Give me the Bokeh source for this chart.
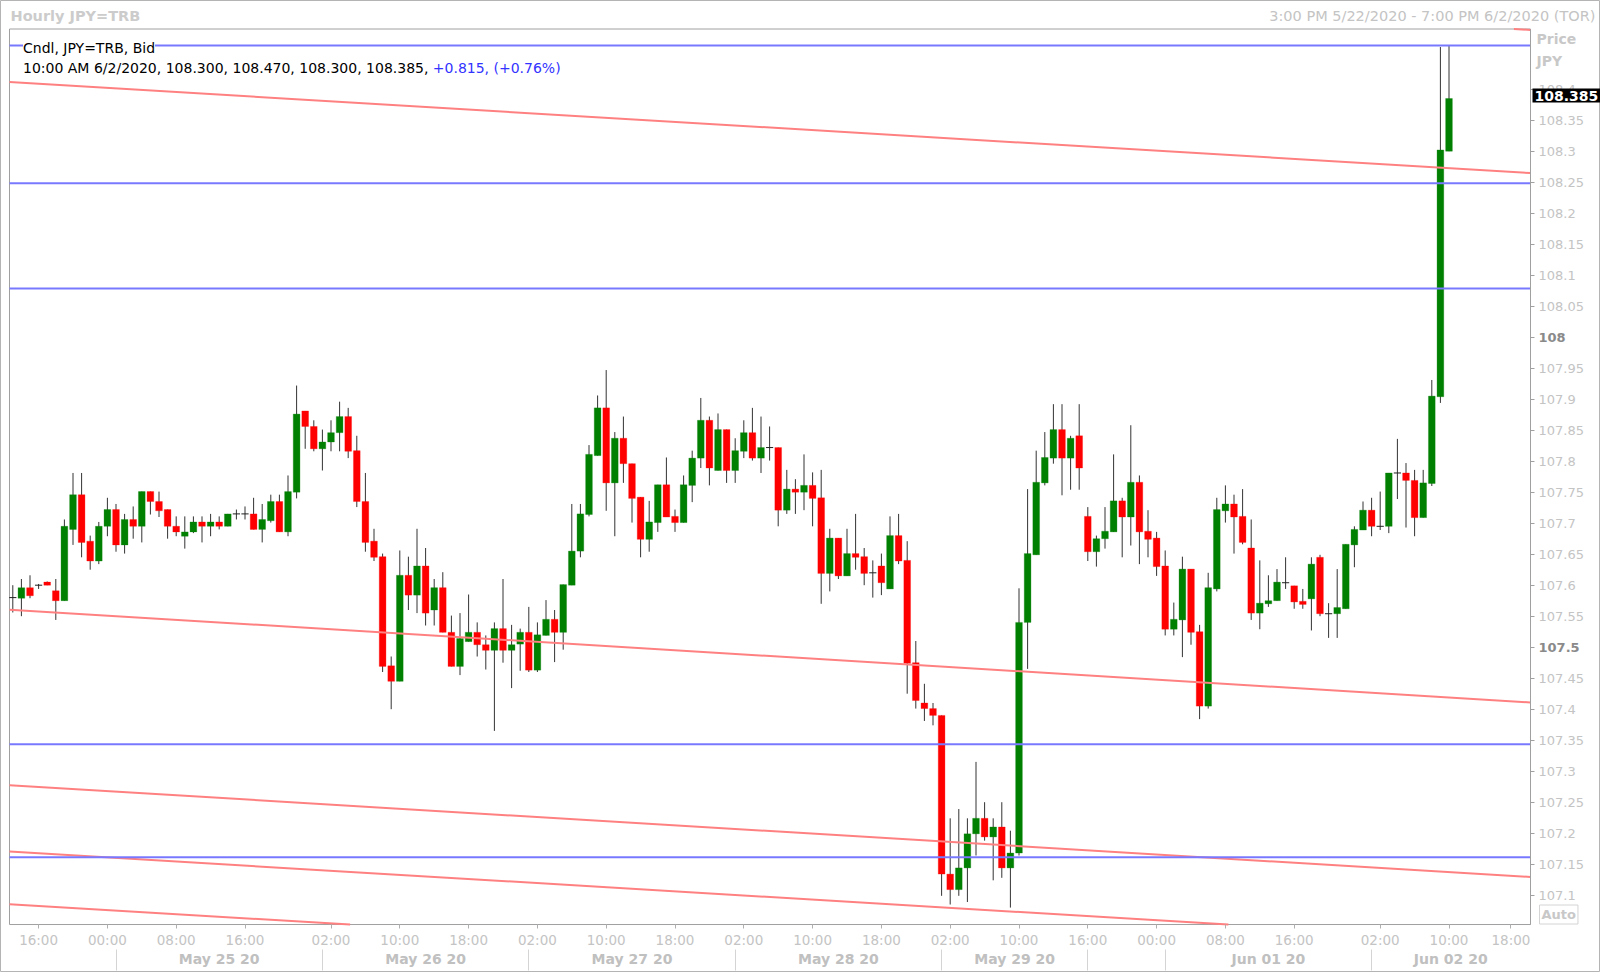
import numpy as np
from bokeh.plotting import figure
from bokeh.models import Range1d, LinearAxis, FixedTicker, Label, ColumnDataSource
from bokeh.embed import file_html
from bokeh.resources import INLINE

# ---------------- data (hourly candles, JPY=TRB bid) ----------------
opens = [107.580, 107.579, 107.596, 107.600, 107.605, 107.591, 107.575, 107.690, 107.746, 107.671,
         107.639, 107.695, 107.722, 107.665, 107.706, 107.695, 107.751, 107.735, 107.722, 107.695,
         107.679, 107.686, 107.702, 107.695, 107.702, 107.695, 107.715, 107.715, 107.715, 107.690,
         107.704, 107.735, 107.686, 107.750, 107.881, 107.856, 107.820, 107.831, 107.846, 107.872,
         107.817, 107.735, 107.671, 107.646, 107.470, 107.445, 107.616, 107.584, 107.631, 107.560,
         107.596, 107.524, 107.469, 107.509, 107.524, 107.504, 107.495, 107.530, 107.495, 107.505,
         107.524, 107.463, 107.519, 107.545, 107.524, 107.600, 107.655, 107.714, 107.809, 107.886,
         107.765, 107.837, 107.796, 107.742, 107.674, 107.701, 107.762, 107.711, 107.701, 107.761,
         107.805, 107.866, 107.785, 107.851, 107.785, 107.816, 107.846, 107.805, 107.822, 107.822,
         107.721, 107.755, 107.750, 107.761, 107.741, 107.619, 107.676, 107.615, 107.651, 107.646,
         107.620, 107.631, 107.594, 107.680, 107.640, 107.475, 107.410, 107.401, 107.390, 107.134,
         107.109, 107.144, 107.199, 107.224, 107.194, 107.210, 107.144, 107.168, 107.540, 107.649,
         107.765, 107.805, 107.851, 107.805, 107.841, 107.711, 107.654, 107.675, 107.686, 107.736,
         107.710, 107.766, 107.687, 107.676, 107.631, 107.529, 107.544, 107.626, 107.525, 107.405,
         107.594, 107.720, 107.731, 107.711, 107.660, 107.555, 107.570, 107.575, 107.604, 107.599,
         107.574, 107.578, 107.645, 107.554, 107.554, 107.562, 107.665, 107.689, 107.721, 107.695,
         107.695, 107.781, 107.781, 107.769, 107.709, 107.764, 107.904, 108.300]
highs = [107.600, 107.610, 107.616, 107.602, 107.606, 107.610, 107.706, 107.781, 107.781, 107.680,
         107.702, 107.741, 107.731, 107.715, 107.727, 107.751, 107.751, 107.751, 107.722, 107.711,
         107.711, 107.711, 107.711, 107.715, 107.711, 107.715, 107.722, 107.727, 107.741, 107.731,
         107.746, 107.746, 107.777, 107.922, 107.881, 107.866, 107.851, 107.866, 107.896, 107.886,
         107.841, 107.781, 107.691, 107.651, 107.485, 107.656, 107.646, 107.691, 107.660, 107.610,
         107.621, 107.551, 107.555, 107.585, 107.540, 107.519, 107.540, 107.610, 107.536, 107.530,
         107.565, 107.540, 107.576, 107.560, 107.601, 107.731, 107.731, 107.826, 107.906, 107.947,
         107.847, 107.872, 107.796, 107.742, 107.736, 107.762, 107.806, 107.722, 107.777, 107.817,
         107.902, 107.872, 107.877, 107.851, 107.837, 107.866, 107.886, 107.872, 107.856, 107.822,
         107.786, 107.771, 107.811, 107.782, 107.786, 107.691, 107.676, 107.691, 107.715, 107.660,
         107.640, 107.651, 107.711, 107.715, 107.671, 107.510, 107.441, 107.410, 107.390, 107.224,
         107.239, 107.224, 107.315, 107.250, 107.224, 107.250, 107.204, 107.595, 107.755, 107.817,
         107.847, 107.892, 107.892, 107.841, 107.892, 107.726, 107.680, 107.726, 107.811, 107.741,
         107.858, 107.777, 107.721, 107.686, 107.656, 107.572, 107.646, 107.626, 107.536, 107.620,
         107.741, 107.761, 107.746, 107.755, 107.706, 107.640, 107.616, 107.626, 107.645, 107.599,
         107.594, 107.645, 107.649, 107.571, 107.626, 107.666, 107.695, 107.735, 107.741, 107.751,
         107.781, 107.836, 107.797, 107.786, 107.786, 107.931, 108.468, 108.470]
lows = [107.556, 107.550, 107.579, 107.594, 107.600, 107.544, 107.575, 107.665, 107.645, 107.625,
        107.634, 107.679, 107.654, 107.651, 107.675, 107.669, 107.714, 107.710, 107.675, 107.679,
        107.659, 107.684, 107.669, 107.679, 107.690, 107.695, 107.706, 107.706, 107.690, 107.669,
        107.701, 107.686, 107.679, 107.740, 107.820, 107.816, 107.785, 107.816, 107.816, 107.805,
        107.726, 107.654, 107.639, 107.460, 107.400, 107.445, 107.560, 107.555, 107.535, 107.535,
        107.524, 107.469, 107.455, 107.509, 107.485, 107.464, 107.365, 107.475, 107.434, 107.462,
        107.460, 107.460, 107.519, 107.476, 107.496, 107.600, 107.645, 107.711, 107.809, 107.720,
        107.679, 107.765, 107.701, 107.645, 107.654, 107.686, 107.710, 107.686, 107.701, 107.734,
        107.789, 107.761, 107.785, 107.765, 107.765, 107.805, 107.801, 107.781, 107.801, 107.695,
        107.715, 107.715, 107.721, 107.695, 107.570, 107.590, 107.610, 107.615, 107.625, 107.600,
        107.580, 107.584, 107.594, 107.634, 107.425, 107.401, 107.381, 107.374, 107.099, 107.085,
        107.099, 107.089, 107.164, 107.188, 107.124, 107.128, 107.080, 107.164, 107.465, 107.649,
        107.761, 107.796, 107.745, 107.754, 107.754, 107.639, 107.630, 107.659, 107.686, 107.645,
        107.664, 107.634, 107.645, 107.615, 107.519, 107.519, 107.484, 107.504, 107.384, 107.401,
        107.590, 107.701, 107.651, 107.666, 107.544, 107.529, 107.565, 107.575, 107.594, 107.562,
        107.562, 107.527, 107.550, 107.515, 107.515, 107.562, 107.629, 107.689, 107.679, 107.689,
        107.684, 107.739, 107.693, 107.679, 107.709, 107.760, 107.894, 108.300]
closes = [107.580, 107.596, 107.583, 107.600, 107.600, 107.575, 107.695, 107.746, 107.669, 107.639,
          107.695, 107.722, 107.665, 107.706, 107.695, 107.751, 107.735, 107.720, 107.695, 107.686,
          107.686, 107.702, 107.695, 107.702, 107.695, 107.715, 107.715, 107.715, 107.690, 107.706,
          107.735, 107.686, 107.751, 107.876, 107.856, 107.820, 107.831, 107.846, 107.872, 107.816,
          107.735, 107.669, 107.645, 107.469, 107.445, 107.616, 107.584, 107.631, 107.555, 107.596,
          107.524, 107.469, 107.514, 107.524, 107.504, 107.495, 107.530, 107.495, 107.504, 107.524,
          107.463, 107.520, 107.545, 107.524, 107.601, 107.655, 107.715, 107.811, 107.886, 107.765,
          107.837, 107.796, 107.740, 107.674, 107.702, 107.762, 107.710, 107.701, 107.762, 107.805,
          107.866, 107.789, 107.851, 107.785, 107.817, 107.846, 107.805, 107.822, 107.822, 107.721,
          107.755, 107.750, 107.761, 107.740, 107.619, 107.676, 107.615, 107.651, 107.645, 107.619,
          107.620, 107.604, 107.680, 107.639, 107.474, 107.414, 107.401, 107.390, 107.134, 107.109,
          107.144, 107.199, 107.224, 107.194, 107.210, 107.144, 107.168, 107.540, 107.651, 107.766,
          107.806, 107.851, 107.805, 107.837, 107.789, 107.654, 107.675, 107.687, 107.736, 107.710,
          107.766, 107.686, 107.674, 107.630, 107.529, 107.545, 107.626, 107.524, 107.405, 107.596,
          107.722, 107.731, 107.710, 107.669, 107.555, 107.571, 107.575, 107.605, 107.604, 107.573,
          107.569, 107.634, 107.554, 107.554, 107.564, 107.666, 107.690, 107.721, 107.695, 107.695,
          107.781, 107.781, 107.769, 107.709, 107.765, 107.905, 108.302, 108.385]

# x-axis (bar index) tick labels
time_tick_pos = [3, 11, 19, 27, 37, 45, 53, 61, 69, 77, 85, 93, 101, 109, 117, 125, 133, 141, 149, 159, 167, 174.2]
time_tick_labels = ["16:00", "00:00", "08:00", "16:00", "02:00", "10:00", "18:00", "02:00", "10:00", "18:00",
                    "02:00", "10:00", "18:00", "02:00", "10:00", "16:00", "00:00", "08:00", "16:00", "02:00",
                    "10:00", "18:00"]
date_label_pos = [24, 48, 72, 96, 116.5, 146, 167.2]
date_labels = ["May 25 20", "May 26 20", "May 27 20", "May 28 20", "May 29 20", "Jun 01 20", "Jun 02 20"]
date_separators = [12, 36, 60, 84, 108, 125, 134, 158]

# price axis ticks
y_ticks = [107.1, 107.15, 107.2, 107.25, 107.3, 107.35, 107.4, 107.45, 107.5, 107.55, 107.6, 107.65,
           107.7, 107.75, 107.8, 107.85, 107.9, 107.95, 108.0, 108.05, 108.1, 108.15, 108.2, 108.25,
           108.3, 108.35, 108.4]
y_tick_labels = ["107.1", "107.15", "107.2", "107.25", "107.3", "107.35", "107.4", "107.45", "", "107.55",
                 "107.6", "107.65", "107.7", "107.75", "107.8", "107.85", "107.9", "107.95", "", "108.05",
                 "108.1", "108.15", "108.2", "108.25", "108.3", "108.35", "108.4"]
bold_ticks = [108.0, 107.5]
bold_tick_labels = ["108", "107.5"]

# drawn studies: sloping (red) trend lines and horizontal (blue) levels
trend_x0 = [-0.384, -0.384, -0.384, -0.384, -0.384, -0.384]
trend_y0 = [108.642, 108.4115, 107.5605, 107.2774, 107.1705, 107.0856]
trend_x1 = [176.48, 176.48, 176.48, 176.48, 176.48, 176.48]
trend_y1 = [108.4955, 108.2648, 107.4108, 107.1294, 107.0235, 106.9387]
levels = [108.4705, 108.2482, 108.0784, 107.3435, 107.1613]

last_price_text = "108.385"

# ---------------- geometry ----------------
FONT = "DejaVu Sans"
W, H = 1600, 972
PXX = 8.6             # pixels per bar
PXY = 620.0           # pixels per 1.0 JPY
X0, X1 = -0.384, 176.477      # chart area (bars)
Y0, Y1 = 107.0527, 108.4971   # chart area (price)
LEFT_PX, TOP_PX = 9, 28.5     # chart area offset inside the canvas


def sx2x(sx):
    return X0 + (sx - LEFT_PX) / PXX


def sy2y(sy):
    return Y1 - (sy - TOP_PX) / PXY


p = figure(width=W, height=H, x_range=Range1d(sx2x(0), sx2x(W)), y_range=Range1d(sy2y(H), sy2y(0)),
           output_backend="svg", toolbar_location=None,
           x_axis_location=None, y_axis_location=None, min_border=0)
p.xgrid.visible = False
p.ygrid.visible = False
p.outline_line_color = "#b4b4b4"
p.background_fill_color = "white"
p.border_fill_color = "white"

# chart area frame
p.quad(left=[X0], right=[X1], bottom=[Y0], top=[Y1], fill_color=None, line_color="#a0a0a0", line_width=1)

n = len(opens)
idx = list(range(n))
o = np.array(opens); c = np.array(closes)
is_doji = np.abs(o - c) < 0.0005
color = ["#008000" if cc > oo else "#ff0000" for oo, cc in zip(opens, closes)]

src = ColumnDataSource(dict(x=idx, high=highs, low=lows))
body_idx = [i for i in idx if not is_doji[i]]
body_src = ColumnDataSource(dict(x=[idx[i] for i in body_idx],
                                 top=[max(opens[i], closes[i]) for i in body_idx],
                                 bottom=[min(opens[i], closes[i]) for i in body_idx],
                                 color=[color[i] for i in body_idx]))
doji_idx = [i for i in idx if is_doji[i]]
doji_src = ColumnDataSource(dict(x0=[idx[i] - 0.42 for i in doji_idx], x1=[idx[i] + 0.42 for i in doji_idx],
                                 y=[opens[i] for i in doji_idx]))

p.segment(x0="x", y0="low", x1="x", y1="high", source=src, line_color="#333333", line_width=1)
p.vbar(x="x", width=0.78, top="top", bottom="bottom", source=body_src,
       fill_color="color", line_color="color", line_width=0.6, line_alpha=0.5)
p.segment(x0="x0", y0="y", x1="x1", y1="y", source=doji_src, line_color="#202020", line_width=1)


# studies, clipped to the chart area
def clip(xa, ya, xb, yb):
    t0, t1 = 0.0, 1.0
    dx, dy = xb - xa, yb - ya
    for pp, qq in ((-dx, xa - X0), (dx, X1 - xa), (-dy, ya - Y0), (dy, Y1 - ya)):
        if pp == 0:
            if qq < 0:
                return None
        else:
            t = qq / pp
            if pp < 0:
                t0 = max(t0, t)
            else:
                t1 = min(t1, t)
    if t0 > t1:
        return None
    return xa + t0 * dx, ya + t0 * dy, xa + t1 * dx, ya + t1 * dy


segs = [clip(*s) for s in zip(trend_x0, trend_y0, trend_x1, trend_y1)]
segs = [s for s in segs if s is not None]
p.segment(x0=[s[0] for s in segs], y0=[s[1] for s in segs], x1=[s[2] for s in segs], y1=[s[3] for s in segs],
          line_color="#ff8080", line_width=2)
p.segment(x0=[X0] * len(levels), y0=levels, x1=[X1] * len(levels), y1=levels,
          line_color="#7878ff", line_width=2)

# ---------------- axes (fixed at the chart-area edges) ----------------
yaxis = LinearAxis(ticker=FixedTicker(ticks=y_ticks, minor_ticks=[]), fixed_location=X1, bounds=(Y0, Y1),
                   major_label_overrides={t: s for t, s in zip(y_ticks, y_tick_labels)},
                   axis_line_color="#a0a0a0", major_tick_line_color="#a0a0a0",
                   major_tick_out=4, major_tick_in=0, minor_tick_line_color=None,
                   major_label_standoff=4, major_label_text_color="#c4c4c4",
                   major_label_text_font=FONT, major_label_text_font_size="13px")
p.add_layout(yaxis, "right")

xaxis = LinearAxis(ticker=FixedTicker(ticks=time_tick_pos, minor_ticks=[]), fixed_location=Y0, bounds=(X0, X1),
                   major_label_overrides={t: s for t, s in zip(time_tick_pos, time_tick_labels)},
                   axis_line_color=None, major_tick_line_color="#b0b0b0",
                   major_tick_out=4, major_tick_in=0, minor_tick_line_color=None,
                   major_label_standoff=3, major_label_text_color="#c4c4c4",
                   major_label_text_font=FONT, major_label_text_font_size="13.5px")
p.add_layout(xaxis, "below")

daxis = LinearAxis(ticker=FixedTicker(ticks=date_label_pos, minor_ticks=date_separators),
                   fixed_location=sy2y(949), bounds=(X0, X1),
                   major_label_overrides={t: s for t, s in zip(date_label_pos, date_labels)},
                   axis_line_color=None, major_tick_line_color=None,
                   major_tick_out=0, major_tick_in=0,
                   minor_tick_line_color="#d4d4d4", minor_tick_out=21, minor_tick_in=0,
                   major_label_standoff=-20, major_label_text_color="#c0c0c0",
                   major_label_text_font=FONT, major_label_text_font_size="14px",
                   major_label_text_font_style="bold")
p.add_layout(daxis, "below")

# ---------------- texts ----------------
for t, s in zip(bold_ticks, bold_tick_labels):
    p.add_layout(Label(x=sx2x(1538), y=t, text=s, text_font=FONT, text_font_size="13px",
                       text_font_style="bold", text_color="#8a8a8a", text_baseline="middle"))

p.add_layout(Label(x=sx2x(1532), y=sy2y(95), text=last_price_text, text_font=FONT,
                   text_font_size="14px", text_font_style="bold", text_color="white",
                   text_baseline="middle", background_fill_color="black", padding=2))

p.add_layout(Label(x=sx2x(1536), y=sy2y(38.3), text="Price", text_font=FONT, text_font_size="14px",
                   text_font_style="bold", text_color="#c8c8c8", text_baseline="middle"))
p.add_layout(Label(x=sx2x(1536), y=sy2y(60), text="JPY", text_font=FONT, text_font_size="14px",
                   text_font_style="bold", text_color="#c8c8c8", text_baseline="middle"))
p.add_layout(Label(x=sx2x(1539), y=sy2y(914), text="Auto", text_font=FONT, text_font_size="13px",
                   text_font_style="bold", text_color="#c8c8c8", text_baseline="middle",
                   border_line_color="#d4d4d4", background_fill_color="white", padding=2))

p.add_layout(Label(x=sx2x(10), y=sy2y(15), text="Hourly JPY=TRB", text_font=FONT,
                   text_font_size="14.5px", text_font_style="bold", text_color="#cccccc",
                   text_baseline="middle"))
p.add_layout(Label(x=sx2x(1595), y=sy2y(15), text="3:00 PM 5/22/2020 - 7:00 PM 6/2/2020 (TOR)",
                   text_font=FONT, text_font_size="14.5px", text_color="#c4c4c4",
                   text_baseline="middle", text_align="right"))

p.add_layout(Label(x=sx2x(22.5), y=sy2y(47), text="Cndl, JPY=TRB, Bid", text_font=FONT,
                   text_font_size="14px", text_color="black", text_baseline="middle",
                   background_fill_color="white"))
p.add_layout(Label(x=sx2x(22.5), y=sy2y(67.3),
                   text="10:00 AM 6/2/2020, 108.300, 108.470, 108.300, 108.385, ",
                   text_font=FONT, text_font_size="14px", text_color="black", text_baseline="middle"))
p.add_layout(Label(x=sx2x(432.3), y=sy2y(67.3), text="+0.815, (+0.76%)",
                   text_font=FONT, text_font_size="14px", text_color="#3333ff", text_baseline="middle"))

open("out.html", "w").write(file_html(p, INLINE))
